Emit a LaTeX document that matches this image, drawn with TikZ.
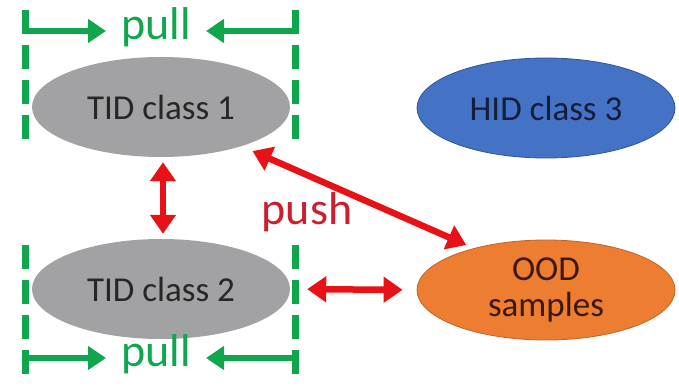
\documentclass[tikz,border=0pt]{standalone}
\usepackage{fontspec}
\setmainfont{Carlito}
\usetikzlibrary{shapes.geometric,arrows.meta}
\definecolor{pullgreen}{RGB}{16,166,78}
\definecolor{pushred}{RGB}{232,18,22}
\definecolor{pushtext}{RGB}{205,30,45}
\definecolor{tidgray}{RGB}{162,162,164}
\definecolor{hidblue}{RGB}{68,114,196}
\definecolor{hidedge}{RGB}{50,85,150}
\definecolor{oodorange}{RGB}{237,125,49}
\definecolor{oodedge}{RGB}{190,100,40}
\begin{document}
\begin{tikzpicture}[x=1pt,y=-1pt,
  blob/.style={ellipse, minimum width=258pt, minimum height=100pt, inner sep=0pt, font=\fontsize{35}{40}\selectfont, align=center},
  tid/.style={blob, fill=tidgray, text=black!85},
  hid/.style={blob, fill=hidblue, draw=hidedge, line width=0.8pt, text={rgb,255:red,20;green,30;blue,60}},
  ood/.style={blob, fill=oodorange, draw=oodedge, line width=0.8pt, text={rgb,255:red,60;green,25;blue,10}},
  pushar/.style={draw=pushred, line width=6.5pt, {Triangle[length=19pt,width=25pt]}-{Triangle[length=19pt,width=25pt]}},
  guide/.style={draw=pullgreen, line width=7pt, dash pattern=on 24pt off 11pt},
  pullar/.style={draw=pullgreen, line width=6.5pt, -{Triangle[length=18pt,width=23pt]}},
  pulltext/.style={text=pullgreen, font=\fontsize{46}{50}\selectfont, inner sep=0pt},
  pushlabel/.style={text=pushtext, font=\fontsize{46}{50}\selectfont, inner sep=0pt}]
\useasboundingbox (0,0) rectangle (679,387);
% ellipses
\node[tid] (t1) at (161,107) {TID class 1};
\node[tid] (t2) at (161,289) {TID class 2};
\node[hid] (h3) at (546,108) {HID class 3};
\node[ood] (ood) at (546,290) {OOD\\[-4pt]samples};
% green guides (top)
\coordinate (tlA) at (25,10);
\coordinate (tlB) at (25,142);
\coordinate (trA) at (295,10);
\coordinate (trB) at (295,142);
\coordinate (tlH) at (25,31);
\coordinate (trH) at (295,31);
\coordinate (tlT) at (106,31);
\coordinate (trT) at (206,31);
\draw[guide] (tlA) -- (tlB);
\draw[guide] (trA) -- (trB);
\draw[pullar] (tlH) -- (tlT);
\draw[pullar] (trH) -- (trT);
\node[pulltext] (pullTop) at (156,27) {pull};
% green guides (bottom)
\coordinate (blA) at (25,374);
\coordinate (blB) at (25,242);
\coordinate (brA) at (295,374);
\coordinate (brB) at (295,242);
\coordinate (blH) at (25,358);
\coordinate (brH) at (295,358);
\coordinate (blT) at (106,358);
\coordinate (brT) at (206,358);
\draw[guide] (blA) -- (blB);
\draw[guide] (brA) -- (brB);
\draw[pullar] (blH) -- (blT);
\draw[pullar] (brH) -- (brT);
\node[pulltext] (pullBot) at (156,354) {pull};
% red push arrows
\draw[pushar, shorten <=5pt, shorten >=5pt] ([xshift=2pt]t1.south) -- ([xshift=2pt]t2.north);
\draw[pushar, shorten <=12pt, shorten >=8pt] (t1.-26) -- (ood.150);
\draw[pushar, shorten <=17pt, shorten >=14pt] (t2.east) -- (ood.west);
\node[pushlabel] (push) at (307,212) {push};
\end{tikzpicture}
\end{document}
